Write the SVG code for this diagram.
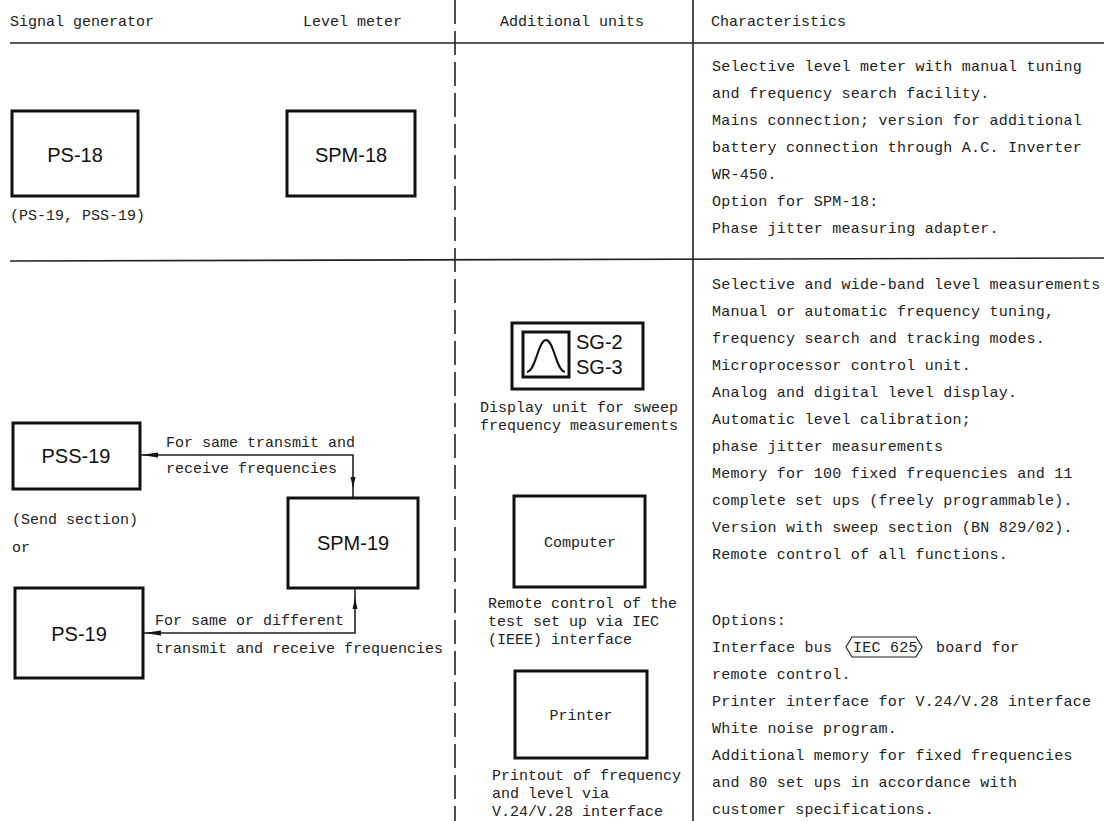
<svg xmlns="http://www.w3.org/2000/svg" width="1104" height="821" viewBox="0 0 1104 821">
<style>
.t{font-family:"Liberation Mono","DejaVu Sans Mono",monospace;font-size:15px;fill:#222}
.c{letter-spacing:0.25px}
.b{font-family:"Liberation Sans",Arial,sans-serif;font-size:20px;fill:#111}
.box{fill:#fff;stroke:#111;stroke-width:3}
.rule{stroke:#222;stroke-width:1.6;fill:none}
.con{stroke:#222;stroke-width:1.6;fill:none}
.ah{fill:#111}
</style>
<rect width="1104" height="821" fill="#fff"/>
<g id="grid">
<line class="rule" x1="10" y1="43" x2="1104" y2="43"/>
<line class="rule" x1="10" y1="261" x2="1104" y2="258"/>
<line class="rule" x1="455" y1="0" x2="455" y2="821" stroke-dasharray="24 7"/>
<line class="rule" x1="693" y1="0" x2="693" y2="821"/>
</g>
<g id="headers">
<text class="t" x="10" y="26">Signal generator</text>
<text class="t" x="303" y="26">Level meter</text>
<text class="t" x="500" y="26">Additional units</text>
<text class="t" x="711" y="26">Characteristics</text>
</g>
<g id="ps18"><rect class="box" x="12" y="111" width="126" height="85"/><text class="b" x="75" y="162" text-anchor="middle">PS-18</text></g>
<text class="t" x="10" y="220">(PS-19, PSS-19)</text>
<g id="spm18"><rect class="box" x="287" y="111" width="128" height="85"/><text class="b" x="351" y="162" text-anchor="middle">SPM-18</text></g>
<g id="pss19"><rect class="box" x="13" y="423" width="127" height="66"/><text class="b" x="76" y="463" text-anchor="middle">PSS-19</text></g>
<text class="t" x="12" y="524">(Send section)</text>
<text class="t" x="12" y="552">or</text>
<g id="spm19"><rect class="box" x="288" y="498" width="130" height="90"/><text class="b" x="353" y="550" text-anchor="middle">SPM-19</text></g>
<g id="ps19"><rect class="box" x="15" y="588" width="128" height="90"/><text class="b" x="79" y="641" text-anchor="middle">PS-19</text></g>
<g id="connectors">
<polyline class="con" points="141,455 353,455 353,497"/>
<polygon class="ah" points="141,455 158,452.5 158,457.5"/>
<polygon class="ah" points="353,488 350.5,477 355.5,477"/>
<polyline class="con" points="144,633 355,633 355,589"/>
<polygon class="ah" points="144,633 161,630.5 161,635.5"/>
<polygon class="ah" points="355,598 352.5,609 357.5,609"/>
</g>
<g id="labels">
<text class="t" x="166" y="447">For same transmit and</text>
<text class="t" x="166" y="473">receive frequencies</text>
<text class="t" x="155" y="625">For same or different</text>
<text class="t" x="155" y="653">transmit and receive frequencies</text>
</g>
<g id="sg">
<rect class="box" x="512" y="323" width="131" height="66"/>
<rect class="box" x="523" y="332" width="46" height="45"/>
<path d="M527,372 C536,371 538,340 546,340 C554,340 556,371 565,372" fill="none" stroke="#111" stroke-width="2"/>
<text class="b" x="576" y="349">SG-2</text>
<text class="b" x="576" y="374">SG-3</text>
</g>
<text class="t" x="480" y="412">Display unit for sweep</text>
<text class="t" x="480" y="430">frequency measurements</text>
<g id="computer"><rect class="box" x="514" y="496" width="131" height="91"/><text class="t" x="580" y="547" text-anchor="middle">Computer</text></g>
<text class="t" x="488" y="608">Remote control of the</text>
<text class="t" x="488" y="626">test set up via IEC</text>
<text class="t" x="488" y="644">(IEEE) interface</text>
<g id="printer"><rect class="box" x="515" y="671" width="132" height="87"/><text class="t" x="581" y="720" text-anchor="middle">Printer</text></g>
<text class="t" x="492" y="780">Printout of frequency</text>
<text class="t" x="492" y="798">and level via</text>
<text class="t" x="492" y="816">V.24/V.28 interface</text>
<g id="char1" class="t c">
<text x="712" y="71">Selective level meter with manual tuning</text>
<text x="712" y="98">and frequency search facility.</text>
<text x="712" y="125">Mains connection; version for additional</text>
<text x="712" y="152">battery connection through A.C. Inverter</text>
<text x="712" y="179">WR-450.</text>
<text x="712" y="206">Option for SPM-18:</text>
<text x="712" y="233">Phase jitter measuring adapter.</text>
</g>
<g id="char2" class="t c">
<text x="712" y="289">Selective and wide-band level measurements</text>
<text x="712" y="316">Manual or automatic frequency tuning,</text>
<text x="712" y="343">frequency search and tracking modes.</text>
<text x="712" y="370">Microprocessor control unit.</text>
<text x="712" y="397">Analog and digital level display.</text>
<text x="712" y="424">Automatic level calibration;</text>
<text x="712" y="451">phase jitter measurements</text>
<text x="712" y="478">Memory for 100 fixed frequencies and 11</text>
<text x="712" y="505">complete set ups (freely programmable).</text>
<text x="712" y="532">Version with sweep section (BN 829/02).</text>
<text x="712" y="559">Remote control of all functions.</text>
<text x="712" y="625">Options:</text>
<text x="712" y="652">Interface bus</text>
<text x="853" y="652">IEC 625</text>
<text x="936" y="652">board for</text>
<text x="712" y="679">remote control.</text>
<text x="712" y="706">Printer interface for V.24/V.28 interface</text>
<text x="712" y="733">White noise program.</text>
<text x="712" y="760">Additional memory for fixed frequencies</text>
<text x="712" y="787">and 80 set ups in accordance with</text>
<text x="712" y="814">customer specifications.</text>
</g>
<path d="M846,647 L852,637 L916,637 L922,647 L916,657 L852,657 Z" fill="none" stroke="#222" stroke-width="1.2"/>
</svg>
